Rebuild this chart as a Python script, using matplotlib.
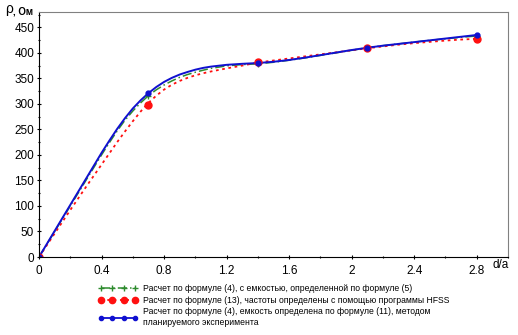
import matplotlib
matplotlib.use("Agg")
import matplotlib.pyplot as plt
from matplotlib.ticker import MultipleLocator

# marker points (d/a, rho)
pts_x = [0, 0.7, 1.4, 2.1, 2.8]
green_pts = [0, 316, 378, 410, 433]
red_pts = [0, 298, 383, 410, 428]
blue_pts = [0, 321, 380, 410, 435]

# curves
cx = [0, 0.1, 0.2, 0.3, 0.4, 0.45, 0.5, 0.55, 0.6, 0.65, 0.7, 0.75, 0.8, 0.85,
      0.9, 0.95, 1.0, 1.05, 1.1, 1.2, 1.3, 1.4, 1.5, 1.6, 1.7, 1.8, 1.9, 2.0,
      2.1, 2.2, 2.3, 2.4, 2.5, 2.6, 2.7, 2.8]
blue_c = [0, 51, 102, 153, 204, 228, 251, 272, 291, 307, 321, 333, 343, 351,
          357.5, 362.5, 367, 370.5, 373, 376.5, 378.5, 380, 382.5, 386, 390.5, 395.5, 400.5, 405.5,
          410, 414, 417.5, 421, 424.5, 428, 431.5, 435]
green_c = [0, 50, 100, 150, 200, 224, 247, 268, 286, 302, 316, 327.5, 337, 345,
           352, 357.5, 362, 366, 369.5, 374.5, 377, 378.5, 381.5, 385.5, 390, 395, 400, 405,
           410, 414, 417.5, 421, 424.5, 427.5, 430.5, 433]
red_c = [0, 46, 92, 137, 181, 203, 225, 246, 266, 285, 302, 316, 328, 337.5,
         345, 351, 356, 360, 363.5, 369.5, 375, 381, 385, 389, 393, 397, 401, 405,
         409, 412.5, 416, 419, 421.5, 424, 426, 427.5]

labels = [
    "Расчет по формуле (4), с емкостью, определенной по формуле (5)",
    "Расчет по формуле (13), частоты определены с помощью программы HFSS",
    "Расчет по формуле (4), емкость определена по формуле (11), методом\nпланируемого эксперимента",
]
xticks = [0, 0.4, 0.8, 1.2, 1.6, 2, 2.4, 2.8]
xtick_labels = ["0", "0.4", "0.8", "1.2", "1.6", "2", "2.4", "2.8"]

plt.rcParams['font.family'] = ['Liberation Sans', 'DejaVu Sans']

fig = plt.figure(figsize=(5.18, 3.35), dpi=100)
ax = fig.add_axes([39/518, 1-257/335, (508-39)/518, (257-12)/335])

GREEN, RED, BLUE = "#2e8b2e", "#ff1010", "#1010d0"
ax.plot(cx, green_c, color=GREEN, lw=1.1, ls=(0, (6, 2, 1, 2)))
ax.plot(cx, red_c, color=RED, lw=1.3, ls=(0, (1.5, 2)))
ax.plot(cx, blue_c, color=BLUE, lw=1.4)
ax.plot(pts_x, green_pts, ls="none", marker="+", ms=4, color=GREEN)
ax.plot(pts_x, red_pts, ls="none", marker="o", ms=5, color=RED)
ax.plot(pts_x, blue_pts, ls="none", marker="o", ms=3.5, color=BLUE)

ax.set_xlim(0, 3.0)
ax.set_ylim(0, 480)
ax.set_xticks(xticks)
ax.set_xticklabels(xtick_labels)
ax.set_yticks(range(0, 451, 50))
ax.xaxis.set_minor_locator(MultipleLocator(0.2))
ax.yaxis.set_minor_locator(MultipleLocator(25))
ax.tick_params(axis="both", which="major", labelsize=8.5, length=3, direction="inout", pad=2, width=0.8)
ax.tick_params(axis="both", which="minor", length=2, direction="inout", width=0.8)
ax.tick_params(axis="x", pad=4)
for s in ["top", "right"]:
    ax.spines[s].set_color("#808080")
for s in ["left", "bottom"]:
    ax.spines[s].set_color("black")

ax.text(2.95, -3, "d/a", ha="center", va="top", fontsize=8.5, transform=ax.transData,
        clip_on=False)
fig.text(5/518, 1-2/335, "ρ", fontsize=10, ha="left", va="top")
fig.text(13/518, 1-7/335, ", Ом", fontsize=7, ha="left", va="top", fontweight="bold")

# legend
h1, = ax.plot([], [], color=GREEN, lw=1.1, ls=(0, (6, 2, 1, 2)), marker="+", ms=4)
h2, = ax.plot([], [], color=RED, lw=1.3, ls=(0, (1.5, 2)), marker="o", ms=4.5)
h3, = ax.plot([], [], color=BLUE, lw=1.3, marker="o", ms=3)
leg = fig.legend([h1, h2, h3], labels, loc="upper left",
                 bbox_to_anchor=(94/518, 1-280/335), frameon=False, fontsize=6.2,
                 handlelength=4.6, handletextpad=0.6, labelspacing=0.3, borderpad=0,
                 numpoints=4)
fig.savefig("out.png", dpi=100)
